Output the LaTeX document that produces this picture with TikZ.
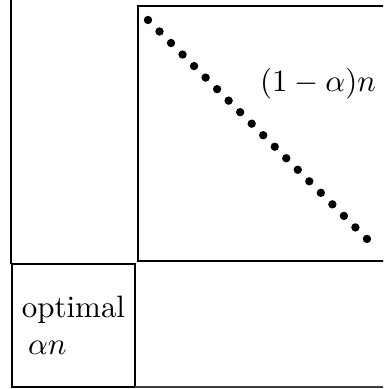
\documentclass[tikz,border=0pt]{standalone}
\usepackage{amsmath,amssymb}
\usepackage{tikz}
\usetikzlibrary{positioning}

\begin{document}
\begin{tikzpicture}[font=\normalsize,
     blk/.style={draw,line width=0.7pt,inner sep=0pt,outer sep=0pt,anchor=south west},
     dot/.style={circle,fill=black,minimum size=0.95mm,inner sep=0pt}]
    \clip (0,0) rectangle (4.351,4.419);
    % upper block, runs on past the right edge
    \node[blk,minimum width=3.2cm,minimum height=2.897cm] (big) at (1.568,1.454) {};
    \node[blk,line width=0.8pt,minimum width=1.398cm,minimum height=1.397cm,align=left] (opt) at (0.136,0.023) {optimal\\\hspace*{2pt}$\alpha n$};
    \coordinate (ltop) at (0.125,4.419);
    \draw[line width=0.55pt] (ltop) -- (ltop |- opt.north);
    \draw[line width=0.45pt,black!75] (opt.south east) -- (opt.south -| big.east);
    \foreach \i in {0,...,19}
      \node[dot] (d\i) at (1.681+\i*0.1309,4.192-\i*0.1309) {};
    \node (frac) at (3.613,3.465) {$(1-\alpha)n$};
  \end{tikzpicture}
\end{document}
